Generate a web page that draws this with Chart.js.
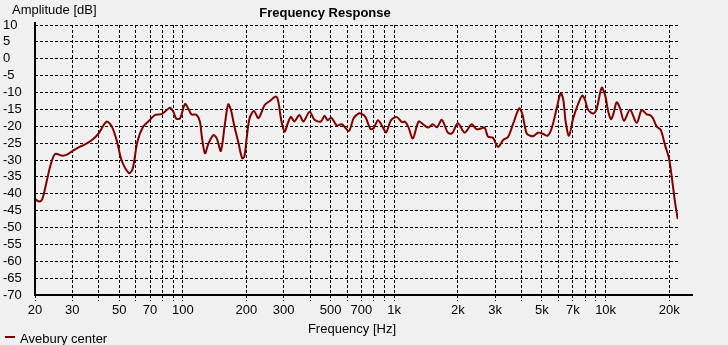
<!DOCTYPE html>
<html>
<head>
<meta charset="utf-8">
<title>Frequency Response</title>
<script src="https://cdn.jsdelivr.net/npm/chart.js@4.4.1/dist/chart.umd.min.js"></script>
<style>
    html, body { margin: 0; padding: 0; background: #f0f0f0; }
    canvas { display: block; }
</style>
</head>
<body>
<canvas id="fr" width="728" height="345"></canvas>
<script>
"use strict";

// Measured response (Hz / dB)
const FREQS = [
    20, 21, 21.7, 22.7, 23.7, 24.9, 26.8, 28.2, 29.8, 32, 34.5, 37.2, 40, 43.6, 46.2, 48.9,
    51.3, 55.7, 58, 61, 65, 70, 73.7, 79.3, 84, 87, 90.3, 93, 97, 102.5, 106, 110,
    116, 120.5, 122.8, 127.3, 132.5, 139.6, 144.8, 151.4, 158, 164, 169, 175.5, 182.9, 191, 195.5,
    200.5, 207, 217, 228, 244, 258, 276, 283, 292, 303, 314, 325, 337, 356, 372,
    398, 420, 450, 468, 484, 505, 535, 566, 610, 643, 680, 700, 730, 772, 799, 838,
    880, 916, 967, 1030, 1090, 1122, 1165, 1225, 1305, 1380, 1450, 1520, 1595, 1680, 1795, 1880,
    2000, 2155, 2325, 2455, 2590, 2680, 2780, 2930, 3100, 3275, 3460, 3660, 3900, 4030, 4230, 4400,
    4550, 4800, 5070, 5320, 5560, 5870, 6130, 6310, 6470, 6710, 7030, 7430, 7760, 7990, 8280, 8750,
    9080, 9580, 9935, 10300, 10600, 10870, 11280, 11700, 12220, 13040, 14030, 14820, 15650, 16220, 16700, 17450,
    18230, 19100, 19940, 20540, 21290, 21930
];
const LEVELS = [
    -41.6, -42.3, -41.4, -36.4, -31.5, -28.2, -28.7, -28.5, -27.5, -26.3, -25.4, -24.1, -22.1, -18.6, -20.1, -24.6,
    -30.0, -33.9, -32.5, -24.6, -20.1, -18.1, -16.7, -16.4, -15.2, -14.5, -15.7, -17.7, -17.7, -13.4, -14.7, -16.5,
    -16.6, -18.6, -22.6, -28.0, -25.0, -22.6, -23.6, -27.3, -19.6, -13.5, -15.2, -20.1, -24.6, -29.5, -29.0,
    -23.6, -17.6, -15.5, -17.6, -13.7, -12.5, -11.2, -12.7, -18.1, -21.6, -19.1, -17.2, -18.6, -16.7, -18.6,
    -15.7, -18.1, -18.6, -16.9, -18.2, -17.5, -19.8, -19.4, -21.4, -17.6, -16.2, -16.3, -17.2, -20.8, -20.6, -18.2,
    -20.1, -21.8, -18.2, -17.3, -18.8, -18.6, -20.1, -23.6, -18.6, -19.6, -20.4, -19.4, -20.3, -18.1, -21.9, -22.1,
    -19.1, -21.9, -19.4, -20.9, -20.6, -20.4, -23.1, -23.4, -26.1, -24.1, -23.1, -19.1, -14.7, -16.2, -22.1, -22.8,
    -22.9, -21.9, -22.3, -22.8, -20.6, -14.7, -10.2, -12.2, -18.6, -22.8, -17.6, -13.2, -10.9, -12.2, -15.2, -16.2,
    -14.7, -8.6, -10.7, -15.7, -17.9, -16.5, -12.9, -14.7, -18.4, -15.1, -19.0, -15.2, -16.5, -16.7, -17.5, -20.1,
    -21.1, -25.6, -29.5, -34.9, -42.4, -47.5
];

// Axis ticks
const X_GRID = [
    20, 30, 40, 50, 60, 70, 80, 90, 100, 200, 300, 400, 500, 600, 700, 800, 900,
    1000, 2000, 3000, 4000, 5000, 6000, 7000, 8000, 9000, 10000, 20000
];
const X_LABEL_VALUES = [20, 30, 50, 70, 100, 200, 300, 500, 700, 1000, 2000, 3000, 5000, 7000, 10000, 20000];
const X_LABELS = ["20", "30", "50", "70", "100", "200", "300", "500", "700", "1k", "2k", "3k", "5k", "7k", "10k", "20k"];

const FONT = "'Liberation Sans', Arial, sans-serif";
const LINE_COLOR = "#800000";

const decorations = {
    id: "decorations",
    afterDatasetsDraw(chart) {
        // solid axis lines
        const { ctx, chartArea } = chart;
        ctx.save();
        ctx.strokeStyle = "#000";
        ctx.lineWidth = 2;
        ctx.beginPath();
        ctx.moveTo(chartArea.left, 22);
        ctx.lineTo(chartArea.left, chartArea.bottom);
        ctx.lineTo(693, chartArea.bottom);
        ctx.stroke();
        ctx.restore();
    },
    afterDraw(chart) {
        const { ctx } = chart;
        ctx.save();
        ctx.fillStyle = "#000";
        ctx.textBaseline = "middle";

        ctx.font = `bold 13px ${FONT}`;
        ctx.textAlign = "center";
        ctx.fillText("Frequency Response", 325, 13);

        ctx.font = `13px ${FONT}`;
        ctx.textAlign = "left";
        ctx.fillText("Amplitude [dB]", 12, 10);

        ctx.textAlign = "center";
        ctx.fillText("Frequency [Hz]", 352, 329);

        // legend
        ctx.strokeStyle = LINE_COLOR;
        ctx.lineWidth = 2;
        ctx.beginPath();
        ctx.moveTo(5, 337);
        ctx.lineTo(15, 337);
        ctx.stroke();
        ctx.textAlign = "left";
        ctx.fillText("Avebury center", 20, 339);
        ctx.restore();
    }
};

new Chart(document.getElementById("fr"), {
    type: "line",
    data: {
        datasets: [{
            label: "Avebury center",
            data: FREQS.map((f, i) => ({ x: f, y: LEVELS[i] })),
            borderColor: LINE_COLOR,
            borderWidth: 2,
            pointRadius: 0,
            tension: 0.3,
            fill: false
        }]
    },
    options: {
        responsive: false,
        animation: false,
        devicePixelRatio: 1,
        layout: { padding: { left: 3, top: 25, right: 50, bottom: 0 } },
        plugins: {
            legend: { display: false },
            title: { display: false },
            tooltip: { enabled: false }
        },
        scales: {
            x: {
                type: "logarithmic",
                min: 20,
                max: 22000,
                afterBuildTicks(scale) {
                    scale.ticks = X_GRID.map((v) => ({ value: v }));
                },
                afterFit(scale) {
                    scale.height = 50;
                },
                ticks: {
                    autoSkip: false,
                    maxRotation: 0,
                    padding: 2,
                    color: "#000",
                    font: { family: FONT, size: 13 },
                    callback(value) {
                        const idx = X_LABEL_VALUES.indexOf(value);
                        return idx === -1 ? "" : X_LABELS[idx];
                    }
                },
                grid: {
                    color: "#000",
                    lineWidth: 1,
                    drawTicks: true,
                    tickLength: 6,
                    tickColor: "#000",
                    tickBorderDash: [3, 2]
                },
                border: { display: false, dash: [3, 2] }
            },
            y: {
                min: -70,
                max: 10,
                afterFit(scale) {
                    scale.width = 32;
                },
                ticks: {
                    stepSize: 5,
                    autoSkip: false,
                    crossAlign: "far",
                    color: "#000",
                    font: { family: FONT, size: 13 }
                },
                grid: {
                    color: "#000",
                    lineWidth: 1,
                    drawTicks: false
                },
                border: { display: false, dash: [3, 2] }
            }
        }
    },
    plugins: [decorations]
});
</script>
</body>
</html>
